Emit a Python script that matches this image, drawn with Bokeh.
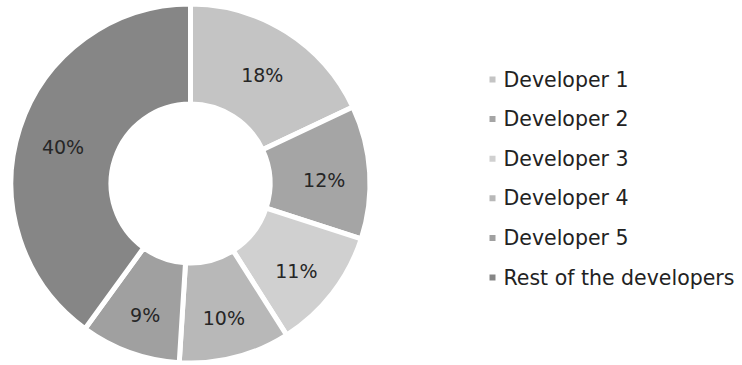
import math
from bokeh.plotting import figure
from bokeh.models import Range1d, ColumnDataSource
from bokeh.embed import file_html
from bokeh.resources import INLINE
from bokeh.core.properties import value

categories = ["Developer 1", "Developer 2", "Developer 3", "Developer 4",
              "Developer 5", "Rest of the developers"]
shares = [18, 12, 11, 10, 9, 40]
labels = ["18%", "12%", "11%", "10%", "9%", "40%"]
colors = ["#c4c4c4", "#a5a5a5", "#d0d0d0", "#b8b8b8", "#a0a0a0", "#868686"]

# layout (picture pixel space; data y = H - picture y)
W, H = 742, 365
CX, CY = 190, H - 183
R_OUT, R_IN = 177, 82
GAP = 5
LABEL_R = 134
LEG_X, LEG_Y0, LEG_DY = 492, 79, 39.6

total = float(sum(shares))
starts, ends, lx, ly = [], [], [], []
cum = 0.0
for s in shares:
    a0 = math.pi / 2 - 2 * math.pi * cum / total
    a1 = math.pi / 2 - 2 * math.pi * (cum + s) / total
    mid = (a0 + a1) / 2
    starts.append(a0)
    ends.append(a1)
    lx.append(CX + LABEL_R * math.cos(mid))
    ly.append(CY + LABEL_R * math.sin(mid))
    cum += s

src = ColumnDataSource(dict(start=starts, end=ends, color=colors,
                            lx=lx, ly=ly, label=labels))

p = figure(width=W, height=H, x_range=Range1d(0, W), y_range=Range1d(0, H),
           output_backend="svg", toolbar_location=None,
           x_axis_location=None, y_axis_location=None, min_border=0,
           outline_line_color=None, background_fill_color="white",
           border_fill_color="white")
p.grid.visible = False

p.annular_wedge(x=CX, y=CY, inner_radius=R_IN - GAP / 2, outer_radius=R_OUT + GAP / 2,
                start_angle="start", end_angle="end", direction="clock",
                fill_color="color", line_color="white", line_width=GAP, source=src)

p.text(x="lx", y="ly", text="label", source=src, text_align="center",
       text_baseline="middle", y_offset=5, text_font=value("DejaVu Sans"),
       text_font_size="19px", text_color="#262626")

leg_y = [H - (LEG_Y0 + LEG_DY * i) for i in range(len(categories))]
leg = ColumnDataSource(dict(x=[LEG_X] * len(categories), tx=[LEG_X + 11] * len(categories),
                            y=leg_y, name=categories, color=colors))
p.scatter(x="x", y="y", marker="square", size=6, fill_color="color",
          line_color=None, source=leg)
p.text(x="tx", y="y", text="name", source=leg, text_align="left",
       text_baseline="middle", text_font=value("DejaVu Sans"),
       text_font_size="20.5px", text_color="#222222")

open("out.html", "w").write(file_html(p, INLINE))
